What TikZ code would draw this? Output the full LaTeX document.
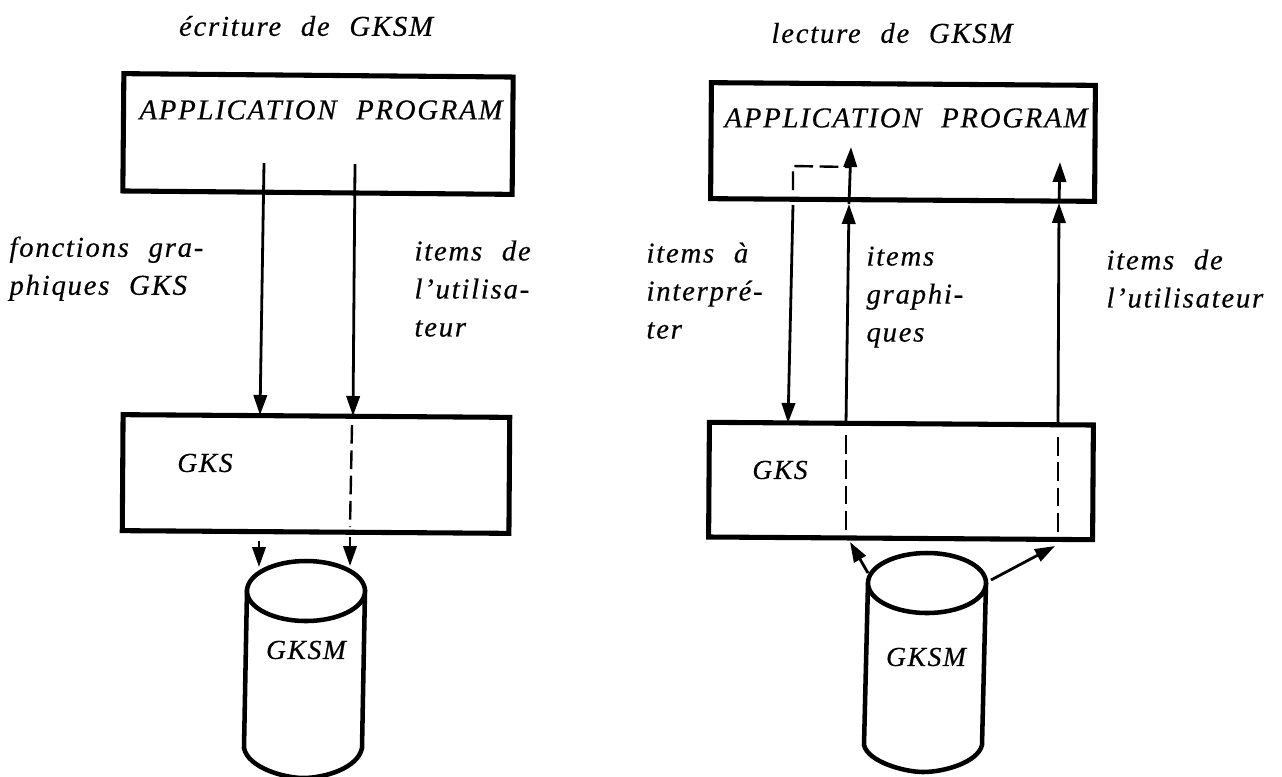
\documentclass[tikz,border=0pt]{standalone}
\usepackage{fontspec}
\setmainfont{Liberation Serif}[ItalicFeatures={LetterSpace=6,WordSpace=2.2,FakeBold=0.4}]
\usetikzlibrary{arrows.meta}

\tikzset{every picture/.style={line width=0.75pt}}
\tikzset{
  blockbox/.style={draw,line width=3.8pt,inner sep=0pt},
  drumline/.style={line width=3.4pt,line cap=round},
  flow/.style={line width=2.1pt},
  tipflow/.style={flow,-{Triangle[length=15pt,width=10pt]}},
  dashflow/.style={line width=1.8pt,dash pattern={on 14pt off 5pt}},
  legend/.style={anchor=north west,inner sep=0pt,align=left,font=\fontsize{21.6pt}{28.5pt}\selectfont\itshape},
  boxlabel/.style={inner sep=0pt,font=\fontsize{21.6pt}{24pt}\selectfont\itshape},
  drumlabel/.style={inner sep=0pt,font=\fontsize{20.6pt}{24pt}\selectfont\itshape}
}

\begin{document}
\begin{tikzpicture}[x=0.75pt,y=0.75pt,yscale=-1,xscale=1]
  \useasboundingbox (0,0) rectangle (1282,776);

  % Titles
  \node [legend,anchor=center] (titlewrite) at (306,26) {écriture de GKSM};
  \node [legend,anchor=center] (titleread) at (892,33) {lecture de GKSM};

  % Boxes, writing side
  \node [blockbox,rotate=-0.5,minimum width=292pt,minimum height=88pt] (appwrite) at (318,134) {};
  \node [boxlabel] (appwritetext) at (321,110) {APPLICATION PROGRAM};
  \node [blockbox,rotate=-0.4,minimum width=290pt,minimum height=87pt] (gkswrite) at (316,474) {};
  \node [drumlabel] (gkswritetext) at (205,463) {GKS};

  % Boxes, reading side
  \node [blockbox,rotate=-0.4,minimum width=288pt,minimum height=87pt] (appread) at (903,142) {};
  \node [boxlabel] (appreadtext) at (906,118) {APPLICATION PROGRAM};
  \node [blockbox,rotate=-0.4,minimum width=288pt,minimum height=86pt] (gksread) at (901,481) {};
  \node [drumlabel] (gksreadtext) at (780,470) {GKS};

  % Drum, writing side
  \draw [drumline] (247,590) -- (244,748) .. controls (248,768) and (285,778) .. (303,778) .. controls (325,778) and (358,768) .. (362,748) -- (365,590);
  \draw [drumline,fill=white] (306,591) ellipse [x radius=59,y radius=30];
  \node [drumlabel] (drumwrite) at (306,650) {GKSM};

  % Drum, reading side
  \draw [drumline] (868,583) -- (864,745) .. controls (868,762) and (905,772) .. (923,772) .. controls (945,772) and (978,762) .. (982,745) -- (986,583);
  \draw [drumline,fill=white] (927,583) ellipse [x radius=59,y radius=30];
  \node [drumlabel] (drumread) at (926,657) {GKSM};

  % Connector ends
  \coordinate (wa) at (264,163);
  \coordinate (wb) at (260,415);
  \coordinate (wc) at (355,164);
  \coordinate (wd) at (353,416);
  \coordinate (we) at (352,425);
  \coordinate (wf) at (350,527);
  \coordinate (wg) at (259,541);
  \coordinate (wh) at (259,567);
  \coordinate (wi) at (350,537);
  \coordinate (wj) at (350,566);

  \coordinate (ra) at (793,205);
  \coordinate (rb) at (788,423);
  \coordinate (rc) at (793,190);
  \coordinate (rd) at (793,166);
  \coordinate (re) at (850,167);
  \coordinate (rf) at (846,424);
  \coordinate (rg) at (849,204);
  \coordinate (rh) at (851,147);
  \coordinate (ri) at (1058,426);
  \coordinate (rj) at (1059,203);
  \coordinate (rk) at (1060,162);
  \coordinate (rl) at (846,435);
  \coordinate (rm) at (846,535);
  \coordinate (rn) at (1058,437);
  \coordinate (ro) at (1058,537);
  \coordinate (rp) at (868,573);
  \coordinate (rq) at (850,542);
  \coordinate (rr) at (991,580);
  \coordinate (rs) at (1055,546);

  % Writing connectors
  \draw [tipflow] (wa) -- (wb);
  \draw [tipflow] (wc) -- (wd);
  \draw [dashflow] (we) -- (wf);
  \draw [tipflow] (wg) -- (wh);
  \draw [tipflow] (wi) -- (wj);

  % Reading connectors
  \draw [tipflow] (ra) -- (rb);
  \draw [dashflow] (rc) -- (rd) -- (re);
  \draw [tipflow] (rf) -- (rg);
  \draw [tipflow] (rg) -- (rh);
  \draw [tipflow] (ri) -- (rj);
  \draw [tipflow] (rj) -- (rk);
  \draw [dashflow] (rl) -- (rm);
  \draw [dashflow] (rn) -- (ro);
  \draw [tipflow] (rp) -- (rq);
  \draw [tipflow] (rr) -- (rs);

  % Legends
  \node [legend] (legfonctions) at (9,236) {fonctions gra-\\phiques GKS};
  \node [legend] (legwriteuser) at (414,240) {items de\\l'utilisa-\\teur};
  \node [legend] (leginterpret) at (646,242) {items à\\interpré-\\ter};
  \node [legend] (leggraphic) at (866,246) {items\\graphi-\\ques};
  \node [legend] (legreaduser) at (1106,249) {items de\\l'utilisateur};

\end{tikzpicture}
\end{document}
